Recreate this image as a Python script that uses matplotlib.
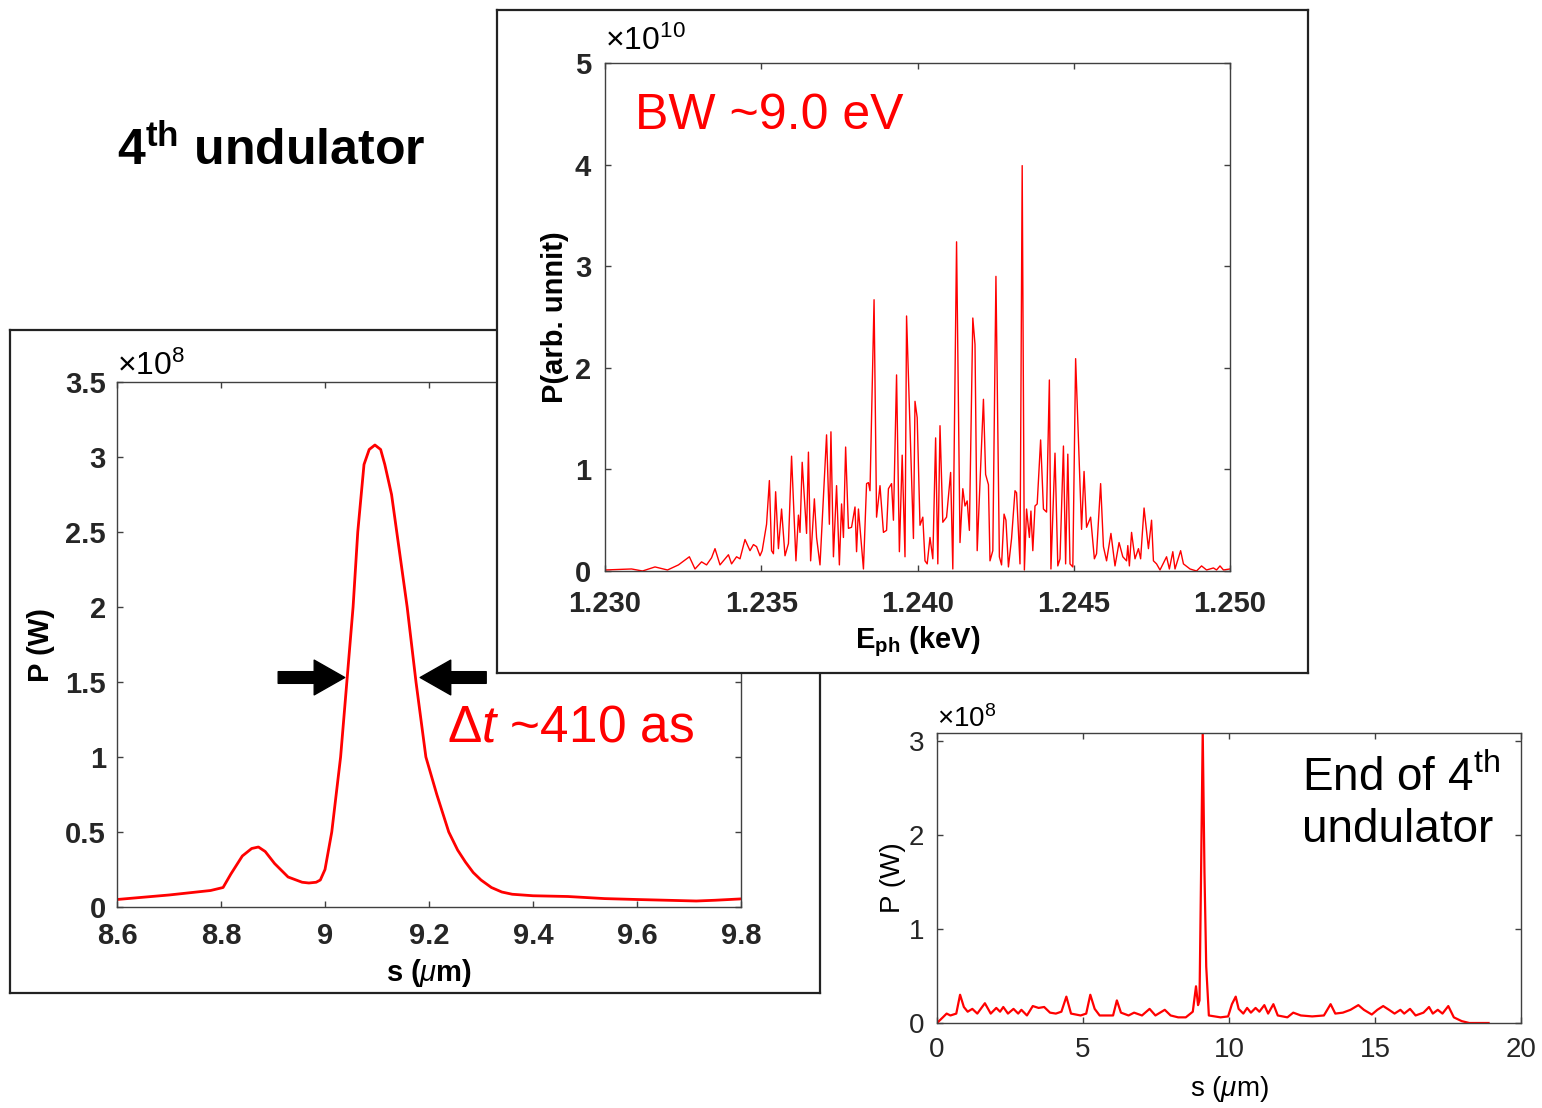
import numpy as np
import matplotlib
matplotlib.use('Agg')
import matplotlib.pyplot as plt
from matplotlib.patches import FancyArrowPatch
from matplotlib.ticker import FuncFormatter

plt.rcParams['font.family'] = ['Liberation Sans', 'DejaVu Sans']
plt.rcParams['mathtext.fontset'] = 'custom'
plt.rcParams['mathtext.rm'] = 'Liberation Sans'
plt.rcParams['mathtext.it'] = 'Liberation Sans:italic'
plt.rcParams['mathtext.bf'] = 'Liberation Sans:bold'

# ── Data ──────────────────────────────────────────────────────────────────────
# Left: zoomed pulse at 4th undulator (P in units of 1e8 W)
pulse_s = [8.60, 8.70, 8.78, 8.804, 8.819, 8.841, 8.859, 8.872, 8.885, 8.903,
           8.929, 8.956, 8.969, 8.983, 8.991, 9.000, 9.013, 9.030, 9.042, 9.054,
           9.063, 9.075, 9.085, 9.096, 9.107, 9.115, 9.128, 9.138, 9.158, 9.175,
           9.194, 9.215, 9.238, 9.255, 9.270, 9.285, 9.300, 9.320, 9.340, 9.360,
           9.400, 9.467, 9.538, 9.600, 9.714, 9.750, 9.800]
pulse_p = [0.05, 0.08, 0.11, 0.13, 0.22, 0.34, 0.39, 0.40, 0.37, 0.29,
           0.20, 0.165, 0.16, 0.165, 0.18, 0.25, 0.50, 1.00, 1.50, 2.00,
           2.50, 2.95, 3.05, 3.08, 3.05, 2.95, 2.75, 2.50, 2.00, 1.50,
           1.00, 0.75, 0.50, 0.38, 0.30, 0.23, 0.18, 0.13, 0.10, 0.085,
           0.075, 0.07, 0.056, 0.05, 0.04, 0.045, 0.054]
fwhm_left, fwhm_right, fwhm_level = 9.038, 9.183, 1.53

# Spectrum (E in keV, P in units of 1e10)
spec_e = [1.23000, 1.23085, 1.23120, 1.23160, 1.23200, 1.23235, 1.23270, 1.23288,
          1.23309, 1.23325, 1.23341, 1.23352, 1.23368, 1.23395, 1.23405, 1.23421,
          1.23432, 1.23448, 1.23464, 1.23475, 1.23485, 1.23496, 1.23503, 1.23517,
          1.23526, 1.23533, 1.23539, 1.23546, 1.23555, 1.23565, 1.23576, 1.23587,
          1.23597, 1.23611, 1.23619, 1.23624, 1.23631, 1.23645, 1.23651, 1.23658,
          1.23670, 1.23677, 1.23688, 1.23709, 1.23718, 1.23723, 1.23731, 1.23741,
          1.23750, 1.23757, 1.23763, 1.23770, 1.23779, 1.23789, 1.23800, 1.23805,
          1.23811, 1.23827, 1.23837, 1.23843, 1.23848, 1.23861, 1.23869, 1.23880,
          1.23891, 1.23901, 1.23907, 1.23917, 1.23923, 1.23933, 1.23942, 1.23951,
          1.23960, 1.23965, 1.23987, 1.23992, 1.23999, 1.24008, 1.24017, 1.24024,
          1.24031, 1.24040, 1.24049, 1.24058, 1.24065, 1.24072, 1.24081, 1.24093,
          1.24106, 1.24113, 1.24125, 1.24136, 1.24145, 1.24152, 1.24159, 1.24166,
          1.24177, 1.24184, 1.24191, 1.24211, 1.24218, 1.24227, 1.24232, 1.24241,
          1.24251, 1.24262, 1.24269, 1.24277, 1.24283, 1.24291, 1.24301, 1.24312,
          1.24317, 1.24328, 1.24335, 1.24342, 1.24349, 1.24358, 1.24363, 1.24369,
          1.24376, 1.24383, 1.24394, 1.24403, 1.24413, 1.24422, 1.24427, 1.24440,
          1.24449, 1.24456, 1.24467, 1.24474, 1.24481, 1.24488, 1.24497, 1.24506,
          1.24525, 1.24533, 1.24541, 1.24554, 1.24566, 1.24573, 1.24586, 1.24595,
          1.24605, 1.24619, 1.24632, 1.24645, 1.24657, 1.24669, 1.24673, 1.24678,
          1.24685, 1.24696, 1.24707, 1.24714, 1.24725, 1.24739, 1.24749, 1.24755,
          1.24765, 1.24776, 1.24797, 1.24806, 1.24817, 1.24824, 1.24842, 1.24851,
          1.24872, 1.24893, 1.24909, 1.24925, 1.24947, 1.24957, 1.24968, 1.24979,
          1.25000]
spec_p = [0.01, 0.02, 0.00, 0.04, 0.01, 0.06, 0.14, 0.02,
          0.09, 0.06, 0.13, 0.22, 0.06, 0.16, 0.07, 0.14,
          0.12, 0.31, 0.20, 0.26, 0.24, 0.15, 0.20, 0.46,
          0.89, 0.20, 0.17, 0.78, 0.22, 0.61, 0.15, 0.27,
          1.13, 0.10, 0.55, 0.38, 1.07, 0.37, 1.17, 0.10,
          0.71, 0.33, 0.06, 1.34, 0.46, 1.37, 0.14, 0.84,
          0.06, 0.66, 0.33, 1.22, 0.42, 0.43, 0.63, 0.19,
          0.61, 0.02, 0.86, 0.87, 0.79, 2.67, 0.53, 0.84,
          0.38, 0.40, 0.81, 0.86, 0.50, 1.93, 0.19, 1.14,
          0.14, 2.51, 0.32, 1.67, 1.51, 0.45, 0.53, 0.10,
          0.07, 0.33, 0.12, 1.31, 0.07, 1.43, 0.48, 0.53,
          0.97, 0.02, 3.24, 0.28, 0.81, 0.64, 0.69, 0.40,
          2.49, 2.23, 0.20, 1.69, 0.95, 0.85, 0.10, 0.20,
          2.90, 0.14, 0.06, 0.56, 0.50, 0.04, 0.32, 0.79,
          0.77, 0.07, 3.99, 0.01, 0.61, 0.33, 0.59, 0.20,
          0.64, 0.66, 1.29, 0.61, 0.58, 1.88, 0.02, 1.16,
          0.05, 0.12, 1.23, 0.07, 1.15, 0.07, 0.04, 2.09,
          0.41, 0.98, 0.43, 0.53, 0.12, 0.17, 0.86, 0.24,
          0.10, 0.37, 0.05, 0.28, 0.14, 0.10, 0.25, 0.05,
          0.38, 0.12, 0.22, 0.12, 0.62, 0.22, 0.50, 0.10,
          0.07, 0.01, 0.14, 0.02, 0.19, 0.02, 0.20, 0.07,
          0.02, 0.00, 0.05, 0.01, 0.03, 0.01, 0.05, 0.01,
          0.02]

# Bottom right: full bunch at end of 4th undulator (P in units of 1e8 W)
full_s = [0.00, 0.20, 0.33, 0.46, 0.66, 0.79, 0.92, 1.05, 1.21, 1.38,
          1.64, 1.84, 2.03, 2.16, 2.27, 2.43, 2.62, 2.78, 2.89, 3.08,
          3.28, 3.48, 3.67, 3.87, 4.07, 4.26, 4.43, 4.59, 4.92, 5.11,
          5.25, 5.40, 5.57, 5.84, 6.03, 6.16, 6.30, 6.56, 6.75, 7.02,
          7.28, 7.48, 7.80, 8.00, 8.26, 8.52, 8.76, 8.87, 8.94, 8.99,
          9.04, 9.10, 9.16, 9.22, 9.31, 9.71, 9.97, 10.10, 10.23, 10.33,
          10.49, 10.62, 10.75, 10.91, 11.04, 11.21, 11.34, 11.52, 11.67, 12.00,
          12.20, 12.46, 12.85, 13.25, 13.48, 13.64, 13.90, 14.16, 14.43, 14.62,
          14.89, 15.08, 15.28, 15.48, 15.67, 15.87, 16.00, 16.20, 16.39, 16.66,
          16.85, 16.98, 17.15, 17.31, 17.51, 17.70, 17.97, 18.23, 18.89]
full_p = [0.00, 0.06, 0.10, 0.08, 0.10, 0.30, 0.17, 0.12, 0.15, 0.10,
          0.21, 0.10, 0.16, 0.12, 0.17, 0.10, 0.15, 0.10, 0.14, 0.08,
          0.18, 0.16, 0.17, 0.11, 0.10, 0.12, 0.28, 0.10, 0.08, 0.10,
          0.30, 0.15, 0.08, 0.08, 0.08, 0.24, 0.11, 0.08, 0.11, 0.08,
          0.15, 0.08, 0.14, 0.08, 0.06, 0.06, 0.12, 0.39, 0.19, 0.24,
          1.50, 3.10, 1.60, 0.60, 0.08, 0.06, 0.07, 0.20, 0.28, 0.15,
          0.10, 0.16, 0.11, 0.16, 0.12, 0.19, 0.10, 0.20, 0.08, 0.06,
          0.11, 0.08, 0.07, 0.08, 0.20, 0.10, 0.11, 0.14, 0.19, 0.14,
          0.09, 0.14, 0.18, 0.14, 0.10, 0.14, 0.10, 0.15, 0.08, 0.11,
          0.17, 0.10, 0.14, 0.10, 0.18, 0.06, 0.02, 0.00, 0.00]

W, H = 1542, 1108
RED = '#ff0000'
SPINE = '#404040'


def frac(x0, y0, x1, y1):
    # pixel box (top-left origin) -> figure fraction rect
    return [x0 / W, (H - y1) / H, (x1 - x0) / W, (y1 - y0) / H]


def matlab_axes(ax, size, bold, xpad, ypad):
    for sp in ax.spines.values():
        sp.set_color(SPINE)
        sp.set_linewidth(1.0)
    ax.tick_params(direction='in', top=True, right=True, length=4.5,
                   width=1.0, color=SPINE, labelsize=size, labelcolor='#262626')
    ax.tick_params(axis='x', pad=xpad)
    ax.tick_params(axis='y', pad=ypad)
    if bold:
        for lab in ax.get_xticklabels() + ax.get_yticklabels():
            lab.set_fontweight('bold')


def panel_frame(fig, rect, z):
    fr = fig.add_axes(rect, zorder=z)
    fr.set_xticks([]); fr.set_yticks([])
    fr.set_facecolor('white')
    for sp in fr.spines.values():
        sp.set_color('#222222')
        sp.set_linewidth(1.6)
    return fr


g = FuncFormatter(lambda v, p: f"{v:g}")

fig = plt.figure(figsize=(W / 100, H / 100), dpi=100)

# ── Left panel: pulse zoom ────────────────────────────────────────────────────
panel_frame(fig, frac(10, 330, 820, 993), 0)
ax = fig.add_axes(frac(117, 382, 741, 907), zorder=1)
ax.plot(pulse_s, pulse_p, color=RED, lw=2.0)
ax.set_xlim(8.6, 9.8); ax.set_ylim(0, 3.5)
ax.set_xticks(np.arange(8.6, 9.81, 0.2)); ax.set_yticks(np.arange(0, 3.51, 0.5))
ax.xaxis.set_major_formatter(g); ax.yaxis.set_major_formatter(g)
matlab_axes(ax, 21, True, 11, 8)
ax.set_xlabel(r's ($\mu$m)', fontsize=21, fontweight='bold', labelpad=5)
ax.set_ylabel('P (W)', fontsize=21, fontweight='bold', labelpad=7)
ax.text(0.0, 1.0, r'$\times10^{8}$', transform=ax.transAxes, fontsize=23,
        ha='left', va='bottom')
for x0, x1 in [(8.91, fwhm_left), (9.31, fwhm_right)]:
    ax.add_patch(FancyArrowPatch((x0, fwhm_level), (x1, fwhm_level),
                 arrowstyle='simple,head_length=1.1,head_width=1.25,tail_width=0.42',
                 mutation_scale=20, color='black', shrinkA=0, shrinkB=0))
ax.text(9.235, 1.19, r'$\Delta t$ ~410 as', color=RED, fontsize=37,
        ha='left', va='center')

# ── Spectrum panel ────────────────────────────────────────────────────────────
panel_frame(fig, frac(497, 10, 1308, 673), 2)
sx = fig.add_axes(frac(605, 63, 1230, 571), zorder=3)
sx.plot(spec_e, spec_p, color=RED, lw=1.0)
sx.set_xlim(1.230, 1.250); sx.set_ylim(0, 5)
sx.set_xticks(np.linspace(1.230, 1.250, 5)); sx.set_yticks(range(6))
sx.xaxis.set_major_formatter(FuncFormatter(lambda v, p: f"{v:.3f}"))
matlab_axes(sx, 21, True, 14, 10)
sx.set_xlabel(r'$\mathbf{E_{ph}}$ (keV)', fontsize=21, fontweight='bold', labelpad=4)
sx.set_ylabel('P(arb. unnit)', fontsize=21, fontweight='bold', labelpad=4)
sx.text(0.0, 1.012, r'$\times10^{10}$', transform=sx.transAxes, fontsize=23,
        ha='left', va='bottom')
sx.text(0.048, 0.895, 'BW ~9.0 eV', transform=sx.transAxes, color=RED,
        fontsize=36, ha='left', va='center')

# ── Bottom right: full bunch ──────────────────────────────────────────────────
bx = fig.add_axes(frac(937, 733, 1521, 1023), zorder=1)
bx.plot(full_s, full_p, color=RED, lw=1.6)
bx.set_xlim(0, 20); bx.set_ylim(0, 3.08)
bx.set_xticks(range(0, 21, 5)); bx.set_yticks(range(4))
matlab_axes(bx, 20, False, 10, 9)
bx.set_xlabel(r's ($\mu$m)', fontsize=20, labelpad=8)
bx.set_ylabel('P (W)', fontsize=20, labelpad=2)
bx.text(0.0, 1.0, r'$\times10^{8}$', transform=bx.transAxes, fontsize=20,
        ha='left', va='bottom')
bx.text(0.625, 0.755, 'End of 4$^{\\mathrm{th}}$\nundulator', transform=bx.transAxes,
        fontsize=33, ha='left', va='center', linespacing=1.22)

fig.text(117 / W, 1 - 150 / H, r'4$^{\mathbf{th}}$ undulator', fontsize=36,
         fontweight='bold', ha='left', va='center')

fig.savefig('out.png', dpi=100)
